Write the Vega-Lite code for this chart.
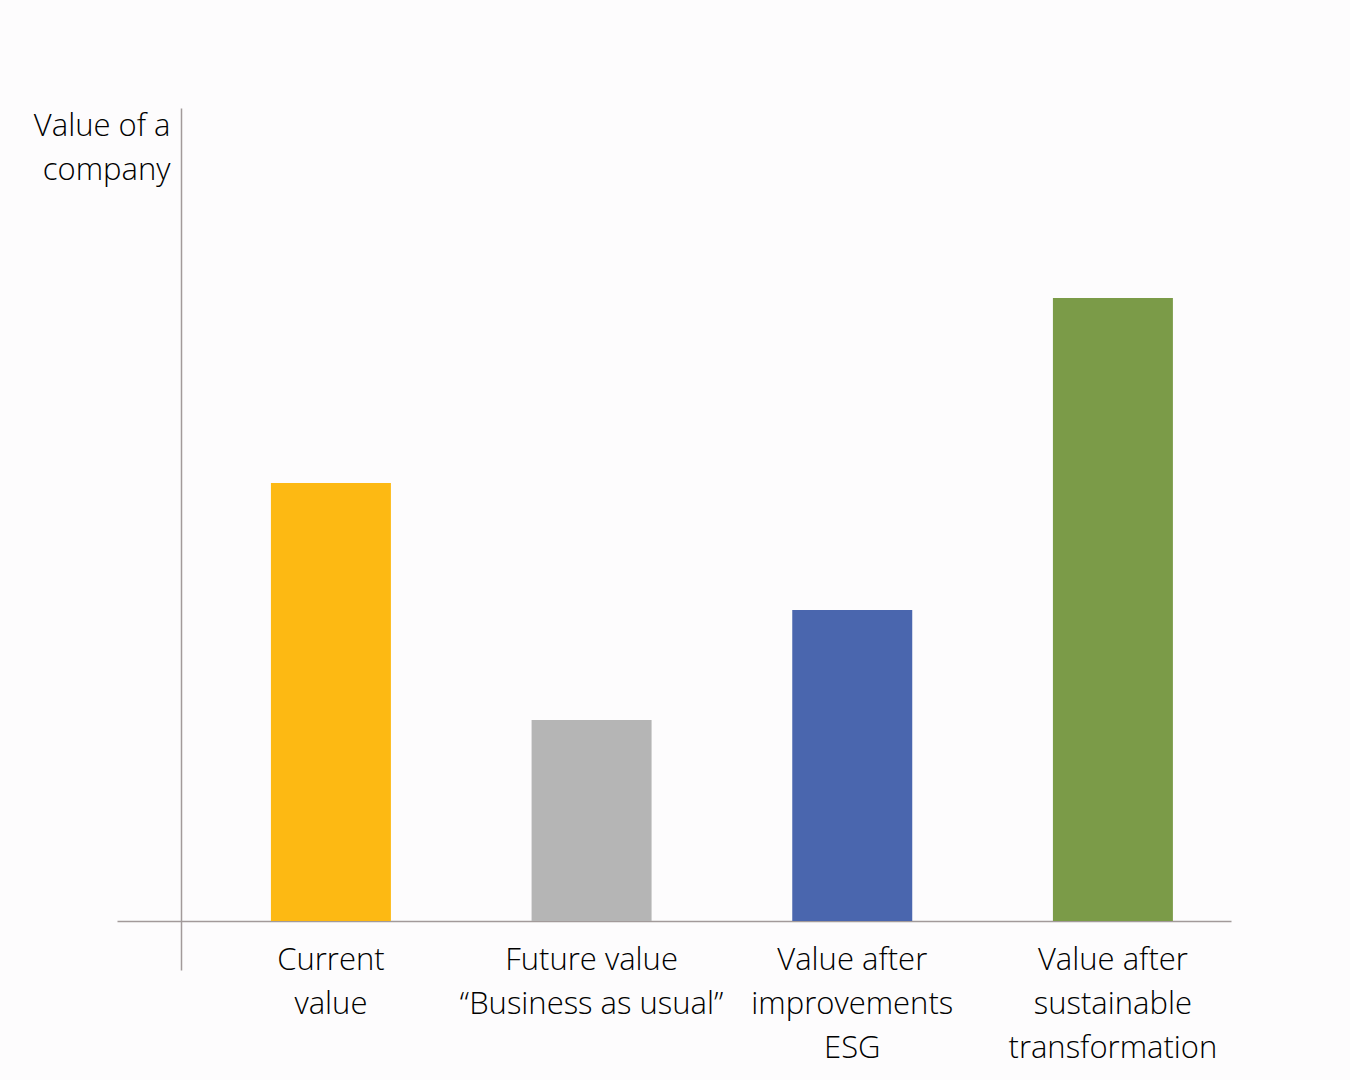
{
  "$schema": "https://vega.github.io/schema/vega-lite/v6.json",
  "width": 1114,
  "height": 862,
  "autosize": {"type": "none"},
  "padding": {"left": 117, "top": 108, "right": 119, "bottom": 110},
  "background": "#fdfcfd",
  "config": {
    "view": {"stroke": null},
    "font": "Open Sans"
  },
  "data": {
    "values": [
      {"category": "Current|value", "value": 43.8},
      {"category": "Future value|“Business as usual”", "value": 20.1},
      {"category": "Value after|improvements|ESG", "value": 31.1},
      {"category": "Value after|sustainable|transformation", "value": 62.3}
    ]
  },
  "mark": {"type": "bar"},
  "encoding": {
    "x": {
      "field": "category",
      "type": "nominal",
      "sort": null,
      "scale": {"paddingInner": 0.5397, "paddingOuter": 0.4067, "align": 0.726},
      "axis": {
        "title": null,
        "orient": "bottom",
        "offset": -49,
        "ticks": false,
        "grid": false,
        "domainColor": "#a29a9a",
        "domainWidth": 1.5,
        "labelAngle": 0,
        "labelExpr": "split(datum.label, '|')",
        "labelFont": "Open Sans",
        "labelFontSize": 31,
        "labelFontWeight": 300,
        "labelColor": "#000000",
        "labelBaseline": "alphabetic",
        "labelPadding": 48,
        "labelLineHeight": 44,
        "labelLimit": 400
      }
    },
    "y": {
      "field": "value",
      "type": "quantitative",
      "scale": {"domain": [-4.9, 81.3], "nice": false, "zero": false},
      "axis": {
        "orient": "left",
        "offset": -64,
        "ticks": false,
        "labels": false,
        "grid": false,
        "domainColor": "#a29a9a",
        "domainWidth": 1.5,
        "title": ["Value of a", "company"],
        "titleAngle": 0,
        "titleAlign": "right",
        "titleBaseline": "alphabetic",
        "titleX": -11,
        "titleY": 27,
        "titleFont": "Open Sans",
        "titleFontSize": 31,
        "titleFontWeight": 300,
        "titleColor": "#000000",
        "titleLineHeight": 44
      }
    },
    "color": {
      "field": "category",
      "type": "nominal",
      "sort": null,
      "scale": {
        "domain": ["Current|value", "Future value|“Business as usual”", "Value after|improvements|ESG", "Value after|sustainable|transformation"],
        "range": ["#fdb913", "#b5b5b5", "#4a66ae", "#7b9b48"]
      },
      "legend": null
    }
  }
}
